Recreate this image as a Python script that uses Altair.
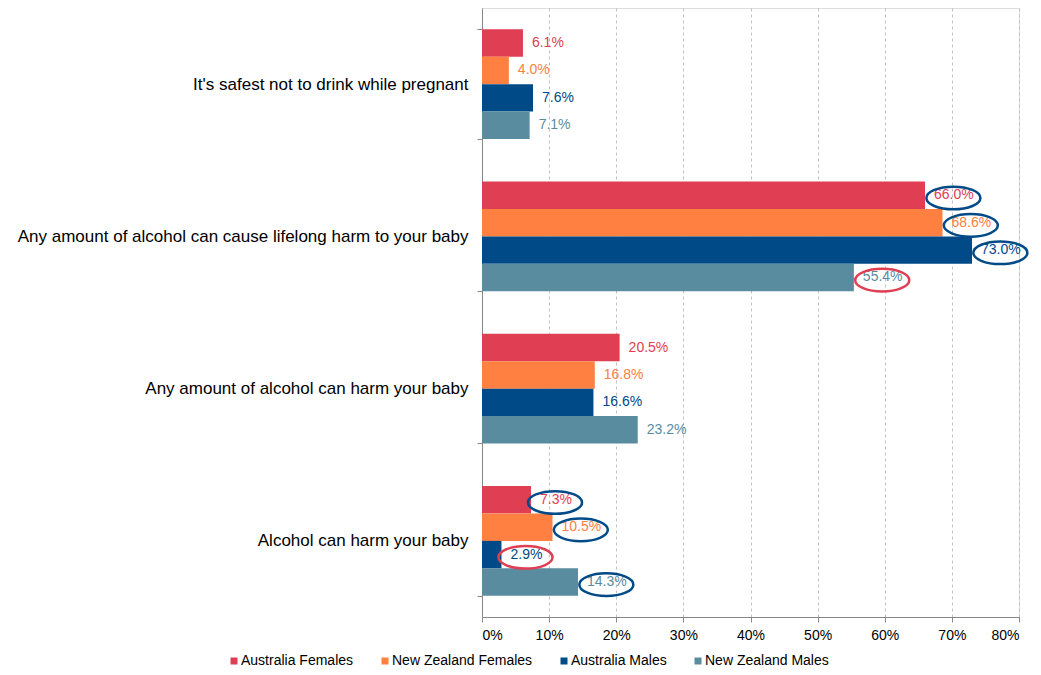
import altair as alt
import pandas as pd

categories = [
    "It's safest not to drink while pregnant",
    "Any amount of alcohol can cause lifelong harm to your baby",
    "Any amount of alcohol can harm your baby",
    "Alcohol can harm your baby",
]
series = ["Australia Females", "New Zealand Females", "Australia Males", "New Zealand Males"]
colors = ["#E03E52", "#FF8040", "#004A87", "#5A8CA0"]

australia_females = [6.1, 66.0, 20.5, 7.3]
new_zealand_females = [4.0, 68.6, 16.8, 10.5]
australia_males = [7.6, 73.0, 16.6, 2.9]
new_zealand_males = [7.1, 55.4, 23.2, 14.3]

# highlighted labels: (category index, series, ring colour)
ring_cat = [1, 1, 1, 1, 3, 3, 3, 3]
ring_series = ["Australia Females", "New Zealand Females", "Australia Males", "New Zealand Males",
               "Australia Females", "New Zealand Females", "Australia Males", "New Zealand Males"]
ring_color = ["#004A87", "#004A87", "#004A87", "#E03E52", "#004A87", "#004A87", "#E03E52", "#004A87"]

all_vals = [australia_females, new_zealand_females, australia_males, new_zealand_males]
rows = []
for s, vals in zip(series, all_vals):
    for c, v in zip(categories, vals):
        rows.append({"category": c, "series": s, "value": v / 100.0, "label": f"{v:.1f}%"})
df = pd.DataFrame(rows)

rrows = []
for ci, s, col in zip(ring_cat, ring_series, ring_color):
    v = all_vals[series.index(s)][ci]
    rrows.append({"category": categories[ci], "series": s, "value": v / 100.0,
                  "ring": col, "long": len(f"{v:.1f}%") > 4})
rdf = pd.DataFrame(rrows)

FONT = "Liberation Sans"

y_enc = alt.Y("category:N", sort=categories,
              scale=alt.Scale(paddingInner=0.28, paddingOuter=0.14),
              axis=alt.Axis(title=None, labelFontSize=17, labelColor="#000000", labelLimit=600,
                            labelPadding=9, tickBand="extent", tickSize=5, tickColor="#888888",
                            domainColor="#888888", grid=False, labelFont=FONT))
yoff = alt.YOffset("series:N", sort=series, scale=alt.Scale(domain=series, paddingInner=0, paddingOuter=0))
x_enc = alt.X("value:Q", scale=alt.Scale(domain=[0, 0.8], nice=False),
              axis=alt.Axis(title=None, format=".0%", values=[i / 10 for i in range(9)],
                            labelFontSize=14, labelColor="#000000", labelFont=FONT,
                            grid=True, gridDash=[3, 3], gridColor="#C0C0C0",
                            domainColor="#888888", tickColor="#888888", tickSize=5,
                            labelPadding=6))
color_scale = alt.Scale(domain=series, range=colors)

base = alt.Chart(df)
bars = base.mark_bar().encode(
    y=y_enc, yOffset=yoff, x=x_enc,
    color=alt.Color("series:N", scale=color_scale, sort=series,
                    legend=alt.Legend(title=None, orient="none", legendX=-255, legendY=646,
                                      direction="horizontal", symbolType="square", symbolSize=49,
                                      labelFontSize=14, labelFont=FONT, labelColor="#000000",
                                      labelOffset=0, columnPadding=24, symbolStrokeWidth=0)),
)
texts = base.mark_text(align="left", baseline="middle", dx=9, fontSize=14, font=FONT).encode(
    y=alt.Y("category:N", sort=categories), yOffset=yoff, x="value:Q",
    color=alt.Color("series:N", scale=color_scale, legend=None),
    text="label:N",
)

# ellipse outlines, shifted right of the bar end (unit = 27 px)
ellipse_short = "M -0.11 0.1 A 1 0.42 0 1 0 1.89 0.1 A 1 0.42 0 1 0 -0.11 0.1 Z"
ellipse_long = "M 0.05 0.1 A 1 0.42 0 1 0 2.05 0.1 A 1 0.42 0 1 0 0.05 0.1 Z"
rbase = alt.Chart(rdf)
rings_short = rbase.transform_filter("!datum.long").mark_point(
    shape=ellipse_short, filled=False, strokeWidth=2.5, size=2916, opacity=1).encode(
    y=alt.Y("category:N", sort=categories), yOffset=yoff, x="value:Q",
    color=alt.Color("ring:N", scale=None),
)
rings_long = rbase.transform_filter("datum.long").mark_point(
    shape=ellipse_long, filled=False, strokeWidth=2.5, size=2916, opacity=1).encode(
    y=alt.Y("category:N", sort=categories), yOffset=yoff, x="value:Q",
    color=alt.Color("ring:N", scale=None),
)

chart = alt.layer(bars, texts, rings_short, rings_long).properties(
    width=537, height=609,
    autosize=alt.AutoSizeParams(type="none"),
    padding={"left": 474, "top": 0, "right": 14, "bottom": 51},
).configure_view(stroke=None).configure(font=FONT)

chart.save("out.html", embed_options={"renderer": "svg", "actions": False})
